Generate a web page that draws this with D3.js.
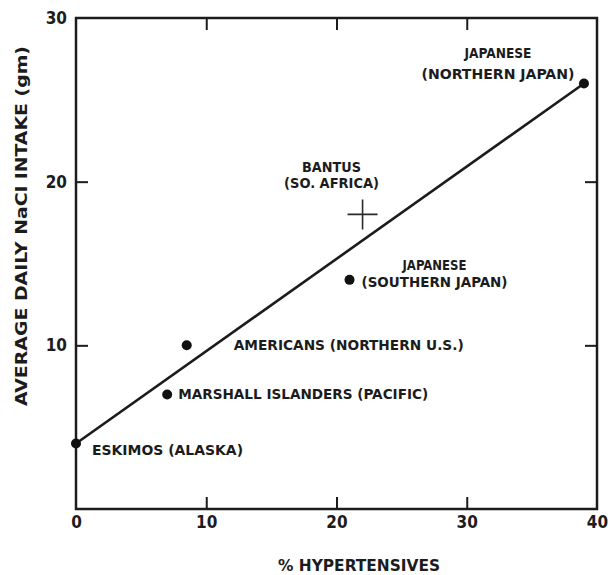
<!DOCTYPE html>
<html><head><meta charset="utf-8">
<script src="https://cdn.jsdelivr.net/npm/d3@7"></script>
<style>body{margin:0;background:#fff}</style>
</head><body><svg id="c" width="610" height="575"></svg>
<script>
// ---- data ----
const groups = ["ESKIMOS (ALASKA)", "MARSHALL ISLANDERS (PACIFIC)", "AMERICANS (NORTHERN U.S.)",
                "JAPANESE (SOUTHERN JAPAN)", "BANTUS (SO. AFRICA)", "JAPANESE (NORTHERN JAPAN)"];
const labelLines = [["ESKIMOS (ALASKA)"], ["MARSHALL ISLANDERS (PACIFIC)"], ["AMERICANS (NORTHERN U.S.)"],
                    ["JAPANESE", "(SOUTHERN JAPAN)"], ["BANTUS", "(SO. AFRICA)"], ["JAPANESE", "(NORTHERN JAPAN)"]];
const hypertensivePct = [0, 7, 8.5, 21, 22, 39];
const saltIntake = [4, 7, 10, 14, 18, 26];
const markerType = ["dot", "dot", "dot", "dot", "cross", "dot"];
const fitX = [0, 39];
const fitY = [4, 26];
const xTicks = [0, 10, 20, 30, 40];
const yTicks = [10, 20, 30];
const xTitle = "% HYPERTENSIVES";
const yTitle = "AVERAGE  DAILY  NaCl  INTAKE  (gm)";

// ---- layout ----
const svg = d3.select("#c");
const L = 76, R = 597, T = 18, B = 509;
const x = d3.scaleLinear().domain([0, 40]).range([L, R]);
const y = d3.scaleLinear().domain([0, 30]).range([B, T]);
const ink = "#1c1c1c";
const font = "'Liberation Sans Narrow','DejaVu Sans Condensed','Liberation Sans',sans-serif";

// axes (inward ticks, mirrored)
const inner = v => v > 0 && v < 40;
const innerY = v => v > 0 && v < 30;
const gB = svg.append("g").attr("transform", `translate(0,${B})`)
  .call(d3.axisBottom(x).tickValues(xTicks).tickSize(-12).tickPadding(7).tickFormat(d3.format("d")));
const gL = svg.append("g").attr("transform", `translate(${L},0)`)
  .call(d3.axisLeft(y).tickValues(yTicks).tickSize(-12).tickPadding(9).tickFormat(d3.format("d")));
const gT = svg.append("g").attr("transform", `translate(0,${T})`)
  .call(d3.axisTop(x).tickValues(xTicks.filter(inner)).tickSize(-12).tickFormat(""));
const gR = svg.append("g").attr("transform", `translate(${R},0)`)
  .call(d3.axisRight(y).tickValues(yTicks.filter(innerY)).tickSize(-12).tickFormat(""));
[gB, gL, gT, gR].forEach(g => {
  g.select(".domain").remove();
  g.selectAll(".tick line").attr("stroke", ink).attr("stroke-width", 2);
  g.selectAll(".tick text").attr("fill", ink).style("font-family", font)
    .style("font-size", "17px").style("font-weight", "bold");
});
gB.selectAll(".tick line").filter(d => !inner(d)).remove();
gL.selectAll(".tick line").filter(d => !innerY(d)).remove();

// frame
svg.append("rect").attr("x", L).attr("y", T).attr("width", R - L).attr("height", B - T)
  .attr("fill", "none").attr("stroke", ink).attr("stroke-width", 2.5);

// fit line
svg.append("line")
  .attr("x1", x(fitX[0])).attr("y1", y(fitY[0]))
  .attr("x2", x(fitX[1])).attr("y2", y(fitY[1]))
  .attr("stroke", ink).attr("stroke-width", 2.6);

// markers
const pts = groups.map((g, i) => ({g, xv: hypertensivePct[i], yv: saltIntake[i], m: markerType[i], lines: labelLines[i]}));
svg.selectAll("circle.pt").data(pts.filter(d => d.m === "dot")).join("circle")
  .attr("class", "pt").attr("cx", d => x(d.xv)).attr("cy", d => y(d.yv)).attr("r", 5).attr("fill", "#111");
const cr = pts.filter(d => d.m === "cross");
const cs = 15;
svg.selectAll("path.cross").data(cr).join("path").attr("class", "cross")
  .attr("d", d => `M${x(d.xv) - cs},${y(d.yv)}H${x(d.xv) + cs}M${x(d.xv)},${y(d.yv) - cs}V${y(d.yv) + cs}`)
  .attr("stroke", "#2a2a2a").attr("stroke-width", 1.6).attr("fill", "none");

// point labels: offsets relative to marker (dx, dy per line, anchor, length)
const labelPlace = [
  {anchor: "start", dx: 16, dy: [11], len: [151]},
  {anchor: "start", dx: 11, dy: [5], len: [250]},
  {anchor: "start", dx: 47, dy: [5], len: [230]},
  {anchor: "middle", dx: 85, dy: [-10, 7], len: [64, 146]},
  {anchor: "middle", dx: -31, dy: [-42, -26], len: [59, 95]},
  {anchor: "middle", dx: -86, dy: [-25, -4], len: [67, 153]}
];
pts.forEach((d, i) => {
  const p = labelPlace[i];
  d.lines.forEach((t, j) => {
    svg.append("text")
      .attr("x", x(d.xv) + p.dx).attr("y", y(d.yv) + p.dy[j])
      .attr("text-anchor", p.anchor)
      .attr("textLength", p.len[j]).attr("lengthAdjust", "spacingAndGlyphs")
      .style("font-family", font).style("font-size", "13.5px").style("font-weight", "bold")
      .attr("fill", ink).text(t);
  });
});

// axis titles
svg.append("text").attr("x", 359).attr("y", 571).attr("text-anchor", "middle")
  .attr("textLength", 162).attr("lengthAdjust", "spacingAndGlyphs")
  .style("font-family", font).style("font-size", "15px").style("font-weight", "bold")
  .attr("fill", ink).text(xTitle);
svg.append("text").attr("transform", "translate(27,226) rotate(-90)").attr("text-anchor", "middle")
  .attr("textLength", 360).attr("lengthAdjust", "spacingAndGlyphs")
  .style("font-family", font).style("font-size", "15px").style("font-weight", "bold")
  .attr("fill", ink).text(yTitle);
</script>
</body></html>
